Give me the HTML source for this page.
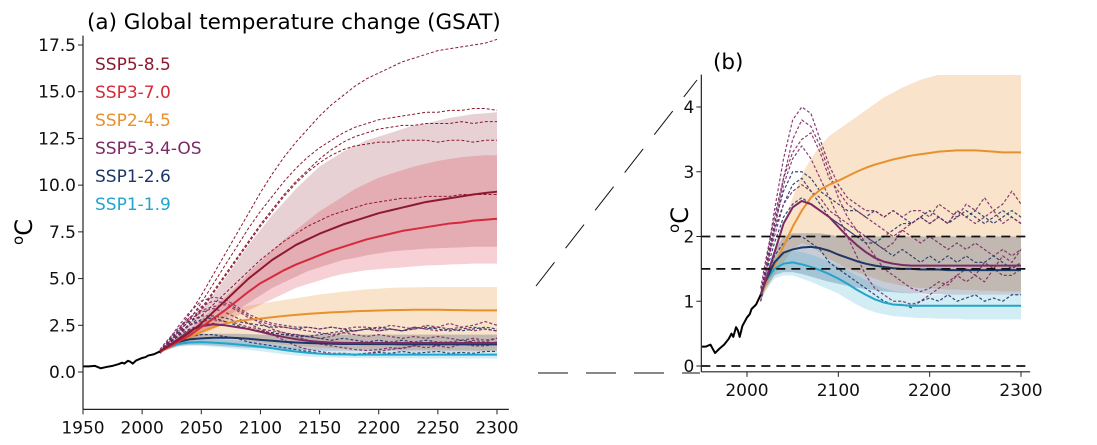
<!DOCTYPE html>
<html><head><meta charset="utf-8"><style>
body{margin:0;background:#fff;font-family:"Liberation Sans","DejaVu Sans",sans-serif}
svg text{font-family:"DejaVu Sans","Liberation Sans",sans-serif}
</style></head><body>
<svg id="chart" width="1097" height="440" viewBox="0 0 1097 440" xmlns="http://www.w3.org/2000/svg">
<defs>
<clipPath id="clipA"><rect x="83" y="36" width="426" height="373"/></clipPath>
<clipPath id="clipB"><rect x="702" y="75" width="328" height="297"/></clipPath>
</defs>
<g id="panelA"></g>
<g id="panelB"></g>
<text x="87" y="29" font-size="21.5">(a) Global temperature change (GSAT)</text>
<text x="713" y="69" font-size="21.5">(b)</text>
<text transform="translate(32,232) rotate(-90)" font-size="24" text-anchor="middle"><tspan font-size="15" dy="-9">o</tspan><tspan dy="9">C</tspan></text>
<text transform="translate(688,220) rotate(-90)" font-size="24" text-anchor="middle"><tspan font-size="15" dy="-9">o</tspan><tspan dy="9">C</tspan></text>
<g stroke="#111" stroke-width="1" stroke-dasharray="30,18" fill="none">
<line x1="538" y1="373" x2="700" y2="373"/>
<line x1="536" y1="286" x2="697" y2="80"/>
</g>
<g font-size="17">
<text x="95" y="70" fill="#8b1a2f">SSP5-8.5</text>
<text x="95" y="98" fill="#d62a3a">SSP3-7.0</text>
<text x="95" y="126" fill="#e8912c">SSP2-4.5</text>
<text x="95" y="154" fill="#7c2a64">SSP5-3.4-OS</text>
<text x="95" y="182" fill="#1c3768">SSP1-2.6</text>
<text x="95" y="210" fill="#23a5cb">SSP1-1.9</text>
</g>
</svg>
<script>
const histYears=[1950,1955,1960,1965,1970,1975,1980,1983,1985,1988,1990,1992,1995,2000,2003,2005,2010,2015];
const histVals=[0.3,0.3,0.33,0.2,0.27,0.33,0.42,0.5,0.45,0.6,0.55,0.45,0.62,0.75,0.8,0.88,0.95,1.1];
const years=[2015,2020,2030,2040,2050,2060,2070,2080,2090,2100,2110,2120,2130,2140,2150,2160,2170,2180,2190,2200,2210,2220,2230,2240,2250,2260,2270,2280,2290,2300];
const ssp585Mean=[1.1,1.3,1.7,2.1,2.6,3.2,3.8,4.4,5.0,5.5,6.0,6.4,6.8,7.1,7.4,7.65,7.9,8.1,8.3,8.5,8.65,8.8,8.95,9.1,9.2,9.3,9.4,9.5,9.58,9.65];
const ssp585Lo=[1.0,1.2,1.5,1.8,2.1,2.5,2.9,3.3,3.7,4.1,4.5,4.8,5.1,5.4,5.6,5.8,6.0,6.1,6.25,6.35,6.45,6.5,6.55,6.6,6.62,6.65,6.67,6.7,6.7,6.7];
const ssp585Hi=[1.2,1.5,2.0,2.6,3.3,4.1,5.0,5.9,6.8,7.6,8.4,9.1,9.8,10.4,11.0,11.4,11.8,12.1,12.4,12.6,12.8,13.0,13.2,13.3,13.45,13.6,13.7,13.8,13.85,13.9];
const ssp370Mean=[1.1,1.25,1.6,1.95,2.4,2.85,3.3,3.8,4.3,4.75,5.1,5.45,5.75,6.0,6.25,6.5,6.7,6.9,7.1,7.25,7.4,7.55,7.65,7.75,7.85,7.95,8.0,8.1,8.15,8.2];
const ssp370Lo=[1.0,1.15,1.4,1.7,2.0,2.3,2.6,3.0,3.3,3.6,3.9,4.2,4.5,4.7,4.9,5.1,5.25,5.35,5.45,5.5,5.55,5.6,5.65,5.7,5.72,5.75,5.77,5.8,5.8,5.8];
const ssp370Hi=[1.2,1.4,1.85,2.3,2.85,3.4,4.0,4.6,5.3,5.9,6.5,7.1,7.6,8.1,8.6,9.0,9.4,9.8,10.1,10.4,10.6,10.8,11.0,11.15,11.3,11.4,11.5,11.55,11.6,11.6];
const ssp245Mean=[1.1,1.25,1.55,1.85,2.15,2.4,2.6,2.72,2.8,2.86,2.93,3.0,3.06,3.11,3.15,3.19,3.22,3.25,3.27,3.29,3.31,3.32,3.33,3.33,3.33,3.32,3.31,3.3,3.3,3.3];
const ssp245Lo=[1.0,1.15,1.4,1.6,1.8,1.9,1.85,1.75,1.65,1.58,1.5,1.45,1.4,1.35,1.3,1.27,1.24,1.22,1.2,1.2,1.19,1.18,1.18,1.17,1.17,1.16,1.16,1.15,1.15,1.15];
const ssp245Hi=[1.2,1.35,1.75,2.2,2.6,2.95,3.2,3.4,3.55,3.65,3.75,3.85,3.95,4.05,4.15,4.22,4.3,4.36,4.42,4.46,4.5,4.52,4.53,4.54,4.54,4.54,4.54,4.54,4.54,4.54];
const ssp534Mean=[1.1,1.3,1.75,2.2,2.45,2.55,2.5,2.4,2.3,2.15,2.0,1.87,1.76,1.67,1.61,1.58,1.56,1.55,1.55,1.55,1.55,1.55,1.55,1.55,1.55,1.55,1.55,1.55,1.55,1.55];
const ssp126Mean=[1.1,1.3,1.6,1.75,1.8,1.83,1.84,1.82,1.78,1.72,1.67,1.62,1.58,1.55,1.53,1.51,1.5,1.5,1.49,1.49,1.49,1.48,1.48,1.48,1.48,1.48,1.48,1.48,1.48,1.48];
const ssp126Lo=[1.0,1.2,1.4,1.45,1.45,1.42,1.38,1.34,1.3,1.27,1.24,1.21,1.19,1.17,1.15,1.14,1.13,1.12,1.12,1.11,1.11,1.1,1.1,1.1,1.1,1.1,1.1,1.1,1.1,1.1];
const ssp126Hi=[1.2,1.4,1.8,2.0,2.05,2.05,2.05,2.05,2.03,2.0,2.0,2.0,2.0,2.0,2.0,2.0,2.0,2.0,2.0,2.0,2.0,2.0,2.0,2.0,2.0,2.0,2.0,2.0,2.0,2.0];
const ssp119Mean=[1.1,1.3,1.5,1.58,1.6,1.57,1.53,1.48,1.42,1.35,1.27,1.18,1.1,1.03,0.98,0.95,0.94,0.93,0.93,0.93,0.93,0.93,0.93,0.93,0.93,0.93,0.93,0.93,0.93,0.93];
const ssp119Lo=[1.0,1.15,1.35,1.4,1.4,1.35,1.3,1.24,1.18,1.12,1.03,0.95,0.88,0.83,0.8,0.77,0.76,0.75,0.74,0.74,0.73,0.73,0.73,0.72,0.72,0.72,0.72,0.72,0.72,0.72];
const ssp119Hi=[1.2,1.45,1.65,1.75,1.78,1.76,1.72,1.67,1.61,1.55,1.48,1.4,1.33,1.26,1.2,1.16,1.14,1.12,1.11,1.1,1.1,1.1,1.1,1.1,1.1,1.1,1.1,1.1,1.1,1.1];
const m585a=[1.1,1.5,2.2,3.1,4.1,5.2,6.3,7.4,8.5,9.6,10.6,11.5,12.3,13.0,13.7,14.3,14.8,15.3,15.7,16.0,16.3,16.6,16.8,17.0,17.2,17.3,17.4,17.5,17.6,17.8];
const m585b=[1.1,1.4,2.0,2.8,3.7,4.7,5.7,6.7,7.7,8.6,9.4,10.2,10.9,11.5,12.0,12.4,12.8,13.1,13.3,13.5,13.6,13.7,13.8,13.9,13.9,14.0,14.0,14.1,14.1,14.0];
const m585c=[1.1,1.4,1.9,2.6,3.4,4.3,5.2,6.1,7.0,7.9,8.7,9.5,10.2,10.8,11.4,11.9,12.3,12.6,12.8,13.0,13.1,13.2,13.2,13.3,13.3,13.3,13.4,13.3,13.4,13.4];
const m585d=[1.1,1.4,1.9,2.6,3.3,4.2,5.1,6.0,6.9,7.8,8.6,9.4,10.1,10.7,11.2,11.6,11.9,12.1,12.2,12.3,12.3,12.4,12.4,12.4,12.3,12.4,12.4,12.3,12.4,12.4];
const m585e=[1.1,1.4,1.9,2.5,3.0,3.6,4.2,4.8,5.4,6.0,6.5,7.0,7.4,7.8,8.1,8.4,8.6,8.8,9.0,9.1,9.2,9.3,9.3,9.4,9.4,9.4,9.5,9.5,9.5,9.5];
const mOs1=[1.1,1.5,2.4,3.2,3.8,4.0,3.9,3.5,3.1,2.8,2.6,2.5,2.4,2.4,2.3,2.4,2.3,2.4,2.4,2.3,2.5,2.4,2.3,2.5,2.4,2.6,2.4,2.5,2.7,2.5];
const mOs2=[1.0,1.4,2.1,2.8,3.2,3.4,3.2,2.9,2.6,2.3,2.0,1.7,1.4,1.2,1.1,1.0,1.0,0.95,1.0,1.1,1.2,1.3,1.4,1.3,1.4,1.3,1.5,1.4,1.4,1.5];
const mOs3=[1.1,1.5,2.0,2.5,2.7,2.8,2.7,2.6,2.4,2.3,2.2,2.1,2.0,1.9,1.8,1.9,2.1,2.2,2.3,2.2,2.3,2.2,2.4,2.3,2.2,2.3,2.4,2.2,2.3,2.2];
const mOs4=[1.2,1.6,2.3,2.9,3.3,3.5,3.6,3.3,2.9,2.7,2.5,2.4,2.3,2.2,2.1,2.0,2.1,2.0,1.9,2.0,1.9,1.8,1.9,1.8,1.9,1.8,1.7,1.8,1.7,1.8];
const mOs5=[1.1,1.4,2.2,2.9,3.5,3.8,3.7,3.4,3.0,2.6,2.3,2.1,1.9,1.7,1.5,1.4,1.3,1.2,1.15,1.2,1.3,1.25,1.4,1.5,1.4,1.6,1.5,1.7,1.6,1.8];
const m126a=[1.1,1.4,1.9,2.3,2.5,2.6,2.5,2.4,2.3,2.2,2.1,2.0,1.9,1.9,2.0,2.1,2.2,2.2,2.3,2.2,2.3,2.2,2.3,2.4,2.3,2.2,2.3,2.4,2.3,2.2];
const m126b=[1.0,1.3,1.7,1.9,2.0,2.0,1.9,1.8,1.6,1.5,1.4,1.3,1.2,1.1,1.0,0.95,0.95,0.9,1.0,1.05,1.0,1.1,1.0,1.05,1.1,1.0,1.05,1.0,1.1,1.1];
const m126c=[1.1,1.5,2.1,2.5,2.8,2.9,2.7,2.5,2.3,2.2,2.1,2.0,2.0,1.9,1.8,1.7,1.8,1.7,1.6,1.7,1.6,1.7,1.6,1.7,1.6,1.6,1.7,1.6,1.5,1.6];
const m126d=[1.1,1.5,2.2,2.7,3.0,3.0,2.9,2.7,2.6,2.5,2.4,2.4,2.3,2.4,2.3,2.4,2.3,2.2,2.3,2.4,2.3,2.2,2.4,2.3,2.4,2.3,2.2,2.3,2.4,2.3];
const xTicksA=[1950,2000,2050,2100,2150,2200,2250,2300];
const yTicksA=[0,2.5,5,7.5,10,12.5,15,17.5];
const xTicksB=[2000,2100,2200,2300];
const yTicksB=[0,1,2,3,4];
const refLevels=[0,1.5,2];

const NS='http://www.w3.org/2000/svg';
function mk(tag,attrs,parent){const e=document.createElementNS(NS,tag);for(const k in attrs)e.setAttribute(k,attrs[k]);parent.appendChild(e);return e;}
function lin(d0,d1,r0,r1){return v=>r0+(v-d0)*(r1-r0)/(d1-d0);}
const C={c585:'#8b1a2f',c370:'#d62a3a',c245:'#e8912c',cos:'#7c2a64',c126:'#1c3768',c119:'#23a5cb'};

function drawPanel(g,x,y,clipId,opts){
  const plot=mk('g',{'clip-path':'url(#'+clipId+')'},g);
  
  
  function band(lo,hi,fill,name){
    let d='M'+years.map((t,i)=>x(t)+','+y(hi[i])).join('L')+'L'+years.slice().reverse().map((t,j)=>x(t)+','+y(lo[years.length-1-j])).join('L')+'Z';
    const p=mk('path',{d:d,fill:fill,stroke:'none'},plot);
    
    
  }
  function line(xs,vs,col,w,dash,name,op){
    const p=mk('polyline',{points:xs.map((t,i)=>x(t)+','+y(vs[i])).join(' '),fill:'none',stroke:col,'stroke-width':w,'stroke-linejoin':'round'},plot);
    if(dash)p.setAttribute('stroke-dasharray',dash);
    if(op)p.setAttribute('stroke-opacity',op);
    
    
  }
  if(opts.refs){refLevels.forEach(v=>{
    const l=mk('line',{x1:x(1950),x2:x(2310),y1:y(v),y2:y(v),stroke:'#111','stroke-width':1.8,'stroke-dasharray':'9,6'},g);
    
    
  });}
  if(opts.high){
    band(ssp585Lo,ssp585Hi,'rgba(139,26,47,0.2)','band-ssp585');
    band(ssp370Lo,ssp370Hi,'rgba(214,42,58,0.22)','band-ssp370');
  }
  band(ssp245Lo,ssp245Hi,'rgba(232,145,44,0.25)','band-ssp245');
  band(ssp126Lo,ssp126Hi,'rgba(28,55,104,0.25)','band-ssp126');
  band(ssp119Lo,ssp119Hi,'rgba(35,165,203,0.2)','band-ssp119');
  const dash='3,2';
  if(opts.high)[m585a,m585b,m585c,m585d,m585e].forEach(m=>line(years,m,C.c585,1,dash,'member-ssp585'));
  [m126a,m126b,m126c,m126d].forEach(m=>line(years,m,C.c126,1.2,dash,'member-ssp126',0.9));
  [mOs1,mOs2,mOs3,mOs4,mOs5].forEach(m=>line(years,m,C.cos,1.2,dash,'member-ssp534os',0.9));
  line(years,ssp245Mean,C.c245,2,null,'mean-ssp245');
  line(years,ssp119Mean,C.c119,2,null,'mean-ssp119');
  line(years,ssp126Mean,C.c126,2,null,'mean-ssp126');
  line(years,ssp534Mean,C.cos,2,null,'mean-ssp534os');
  if(opts.high){
    line(years,ssp370Mean,C.c370,2,null,'mean-ssp370');
    line(years,ssp585Mean,C.c585,2,null,'mean-ssp585');
  }
  line(histYears,histVals,'#000',2,null,'historical-line');
  const x0=x(1950),x1=x(2310),yb=opts.yBottom,yt=opts.yTop;
  const ax=mk('line',{x1:x0,x2:x1,y1:y(yb),y2:y(yb),stroke:'#222','stroke-width':1.2},g);
  
  
  const ay=mk('line',{x1:x0,x2:x0,y1:y(yb),y2:y(yt),stroke:'#222','stroke-width':1.2},g);
  
  
  opts.xt.forEach(t=>{
    mk('line',{x1:x(t),x2:x(t),y1:y(yb),y2:y(yb)+5,stroke:'#222'},g);
    const tx=mk('text',{x:x(t),y:y(yb)+24,'font-size':17,'text-anchor':'middle',fill:'#111'},g);
    tx.textContent=t;
    
    
  });
  opts.yt.forEach(v=>{
    mk('line',{x1:x0-5,x2:x0,y1:y(v),y2:y(v),stroke:'#222'},g);
    const tx=mk('text',{x:x0-7,y:y(v)+6,'font-size':17,'text-anchor':'end',fill:'#111'},g);
    tx.textContent=opts.fmt(v);
    
    
  });
}
const xA=lin(1950,2300,83,497), yA=lin(0,17.5,372,45);
drawPanel(document.getElementById('panelA'),xA,yA,'clipA',{xt:xTicksA,yt:yTicksA,fmt:v=>v.toFixed(1),yBottom:-2,yTop:18,refs:false,high:true});
const xB=lin(2000,2300,747,1021), yB=lin(0,4,366,107);
drawPanel(document.getElementById('panelB'),xB,yB,'clipB',{xt:xTicksB,yt:yTicksB,fmt:v=>String(v),yBottom:-0.09,yTop:4.5,refs:true,high:false});
</script>
</body></html>
